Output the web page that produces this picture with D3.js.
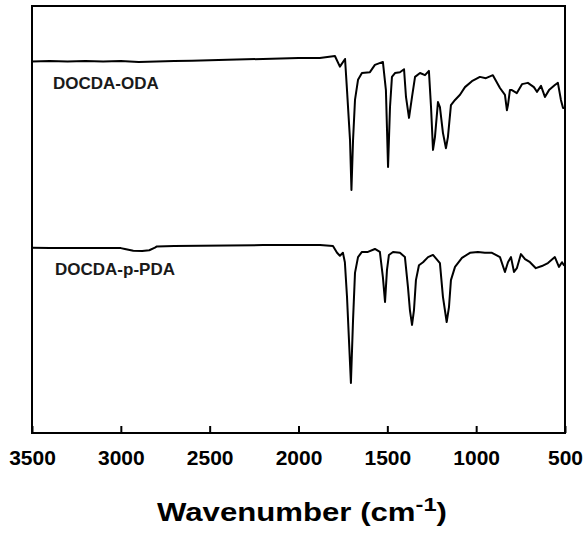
<!DOCTYPE html>
<html>
<head>
<meta charset="utf-8">
<script src="https://cdn.jsdelivr.net/npm/d3@7"></script>
<style>
  body { margin: 0; background: #fff; }
  svg { display: block; }
</style>
</head>
<body>
<svg width="586" height="534"></svg>
<script>
// wavenumbers (cm-1) and transmittance (a.u.)
var odaWave = [3500, 3400, 3300, 3200, 3100, 3000, 2900, 2800, 2700, 2600, 2400, 2200, 2000, 1880,
  1795, 1767, 1738, 1727, 1710, 1702, 1693, 1682, 1665, 1643, 1598, 1570, 1525, 1508, 1496, 1485,
  1474, 1457, 1429, 1406, 1395, 1378, 1361, 1344, 1316, 1288, 1266, 1254, 1243, 1232, 1215, 1204,
  1187, 1170, 1159, 1142, 1119, 1091, 1063, 1024, 979, 945, 906, 866, 838, 827, 821, 810, 799, 771,
  742, 709, 675, 658, 635, 613, 590, 557, 540, 523, 511, 500];
var odaT = [87.0, 87.1, 87.0, 87.1, 87.0, 87.1, 86.9, 87.0, 87.1, 87.2, 87.4, 87.6, 87.8, 87.8,
  88.3, 85.8, 87.6, 80.3, 68.6, 56.9, 68.6, 78.0, 82.7, 84.3, 84.5, 86.2, 86.9, 80.3, 62.3, 76.3,
  83.4, 84.3, 84.5, 85.2, 78.7, 73.8, 78.7, 83.4, 84.3, 83.8, 84.8, 76.3, 66.3, 69.3, 77.5, 76.3,
  70.3, 66.7, 69.3, 76.8, 78.0, 79.2, 81.0, 82.4, 83.4, 83.1, 83.8, 80.8, 79.2, 75.6, 76.8, 80.3, 80.3, 79.6,
  81.7, 82.0, 81.0, 79.9, 81.3, 78.7, 80.3, 81.5, 82.0, 78.0, 76.1, 76.1];

var pdaWave = [3500, 3400, 3200, 3000, 2977, 2930, 2880, 2840, 2808, 2797, 2700, 2400, 2200, 2000, 1879,
  1806, 1783, 1767, 1750, 1739, 1727, 1716, 1705, 1693, 1682, 1665, 1643, 1609, 1570, 1542, 1525,
  1513, 1502, 1491, 1468, 1429, 1401, 1384, 1373, 1361, 1350, 1339, 1322, 1299, 1271, 1243, 1204,
  1187, 1166, 1153, 1142, 1119, 1080, 1035, 990, 951, 911, 866, 838, 821, 804, 787, 771, 748, 725,
  697, 664, 630, 596, 557, 534, 517, 506, 500];
var pdaT = [43.4, 43.3, 43.3, 43.3, 43.1, 42.7, 42.6, 42.8, 43.4, 43.7, 43.8, 43.9, 44.0, 44.0, 44.0,
  43.8, 42.2, 41.5, 42.2, 40.0, 31.9, 21.8, 11.7, 26.5, 37.5, 41.2, 42.4, 42.4, 43.1, 42.4, 36.5,
  30.7, 38.2, 41.7, 42.4, 42.2, 41.2, 34.2, 28.8, 25.3, 28.8, 35.8, 39.3, 40.0, 41.2, 41.7, 39.8,
  31.9, 26.0, 29.5, 35.8, 38.9, 41.0, 42.2, 42.4, 42.2, 42.2, 41.2, 37.7, 40.0, 41.2, 37.7, 38.6, 41.9, 40.7,
  40.0, 38.6, 39.1, 39.8, 41.2, 38.9, 40.0, 39.3, 39.3];

var xTicks = [3500, 3000, 2500, 2000, 1500, 1000, 500];
var seriesNames = ["DOCDA-ODA", "DOCDA-p-PDA"];

var svg = d3.select("svg");
// plot box (don't call it "top", window.top is read only)
var boxL = 32, boxR = 565, boxT = 6, boxB = 433;

var x = d3.scaleLinear().domain([3500, 500]).range([boxL, boxR]);
var y = d3.scaleLinear().domain([0, 100]).range([boxB, boxT]);

var line = d3.line()
  .x(function(d) { return x(d[0]); })
  .y(function(d) { return y(d[1]); });

var series = [d3.zip(odaWave, odaT), d3.zip(pdaWave, pdaT)];

svg.selectAll("path.trace")
  .data(series).enter()
  .append("path")
  .attr("class", "trace")
  .attr("d", line)
  .style("fill", "none")
  .style("stroke", "#000")
  .style("stroke-width", 2)
  .style("stroke-linejoin", "round");

// inward ticks on the bottom edge
var axis = d3.axisBottom(x).tickValues(xTicks).tickSizeInner(-7).tickSizeOuter(0).tickFormat(d3.format("d"));
var g = svg.append("g").attr("transform", "translate(0," + boxB + ")").call(axis);
g.select(".domain").remove();
g.selectAll(".tick line").style("stroke", "#000").style("stroke-width", 2);
g.selectAll(".tick text")
  .attr("y", 32)
  .attr("dy", 0)
  .style("font-family", "Arial, 'Liberation Sans', sans-serif")
  .style("font-weight", "bold")
  .style("font-size", "21px")
  .style("fill", "#000");

// frame
svg.append("rect")
  .attr("x", boxL).attr("y", boxT)
  .attr("width", boxR - boxL).attr("height", boxB - boxT)
  .style("fill", "none").style("stroke", "#000").style("stroke-width", 2);

// trace labels
svg.selectAll("text.name")
  .data(seriesNames).enter()
  .append("text")
  .attr("class", "name")
  .attr("x", function(d, i) { return i == 0 ? 53 : 55; })
  .attr("y", function(d, i) { return i == 0 ? 89 : 275; })
  .text(function(d) { return d; })
  .style("font-family", "Arial, 'Liberation Sans', sans-serif")
  .style("font-weight", "bold")
  .style("font-size", "17px")
  .style("fill", "#1a1a1a");

// axis title
var title = svg.append("text")
  .attr("x", 157)
  .attr("y", 521)
  .attr("textLength", 290)
  .attr("lengthAdjust", "spacingAndGlyphs")
  .style("font-family", "Arial, 'Liberation Sans', sans-serif")
  .style("font-weight", "bold")
  .style("font-size", "25px")
  .style("fill", "#000");
title.append("tspan").text("Wavenumber (cm");
title.append("tspan").attr("dy", -10).style("font-size", "19px").text("-1");
title.append("tspan").attr("dy", 10).text(")");
</script>
</body>
</html>
